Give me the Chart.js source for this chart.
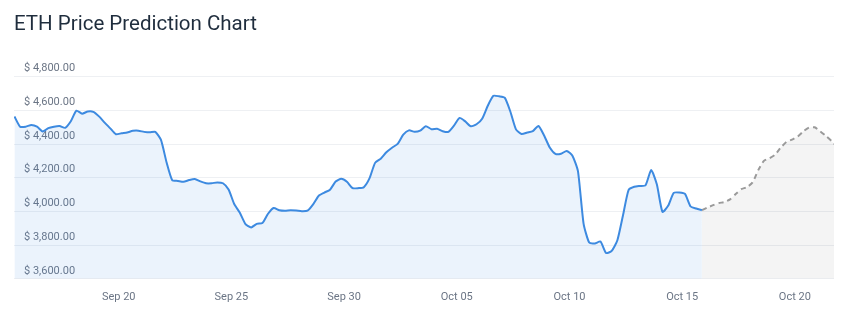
<!DOCTYPE html>
<html>
<head>
<meta charset="utf-8">
<script src="https://cdn.jsdelivr.net/npm/chart.js@4.4.1/dist/chart.umd.min.js"></script>
<style>
  body { margin: 0; background: #fff; }
  #wrap { width: 845px; height: 320px; position: relative; }
</style>
</head>
<body>
<div id="wrap"><canvas id="eth-chart"></canvas></div>
<script>
// ETH price, 6h steps; prediction picks up at the last history point
const historyStart = "2025-09-15T09:00:00Z";
const stepHours = 6;

const historyPrices = [
  4563, 4503, 4503, 4513, 4503, 4474, 4494, 4503, 4507, 4496,
  4535, 4598, 4580, 4593, 4591, 4564, 4527, 4493, 4458, 4464,
  4468, 4478, 4479, 4472, 4469, 4472, 4424, 4290, 4185, 4181,
  4176, 4186, 4192, 4178, 4167, 4167, 4172, 4167, 4130, 4044,
  3992, 3925, 3905, 3926, 3931, 3986, 4020, 4007, 4004, 4007,
  4005, 4001, 4004, 4042, 4093, 4112, 4129, 4177, 4194, 4176,
  4138, 4138, 4144, 4196, 4288, 4313, 4351, 4378, 4401, 4455,
  4481, 4472, 4479, 4506, 4488, 4491, 4476, 4472, 4509, 4555,
  4534, 4505, 4517, 4550, 4627, 4686, 4683, 4675, 4593, 4487,
  4459, 4468, 4477, 4507, 4450, 4379, 4341, 4342, 4359, 4332,
  4239, 3928, 3815, 3810, 3821, 3753, 3766, 3829, 3977, 4128,
  4146, 4151, 4155, 4245, 4161, 3997, 4033, 4110, 4112, 4104,
  4029, 4017, 4007
];

const predictionPrices = [
  4007, 4023, 4037, 4049, 4056, 4071, 4103, 4132, 4144, 4172,
  4245, 4300, 4316, 4337, 4379, 4412, 4426, 4444, 4475, 4497,
  4499, 4475, 4448, 4418, 4383
];

const tickDates = ["2025-09-20", "2025-09-25", "2025-09-30", "2025-10-05", "2025-10-10", "2025-10-15", "2025-10-20"];
const tickLabels = ["Sep 20", "Sep 25", "Sep 30", "Oct 05", "Oct 10", "Oct 15", "Oct 20"];

const HOUR = 3600 * 1000;
const t0 = Date.parse(historyStart);
const historyPoints = historyPrices.map((v, i) => ({ x: t0 + i * stepHours * HOUR, y: v }));
const t1 = historyPoints[historyPoints.length - 1].x;
const predictionPoints = predictionPrices.map((v, i) => ({ x: t1 + i * stepHours * HOUR, y: v }));
const tickValues = tickDates.map(d => Date.parse(d + "T00:00:00Z"));

const ctx = document.getElementById("eth-chart").getContext("2d");
new Chart(ctx, {
  type: "line",
  data: {
    datasets: [
      {
        label: "Price",
        data: historyPoints,
        borderColor: "#3d8ae0",
        backgroundColor: "rgba(62, 140, 226, 0.1)",
        borderWidth: 2,
        pointRadius: 0,
        tension: 0.2,
        fill: "start",
      },
      {
        label: "Prediction",
        data: predictionPoints,
        borderColor: "#9a9a9a",
        backgroundColor: "rgba(0, 0, 0, 0.045)",
        borderWidth: 2,
        borderDash: [5, 4],
        pointRadius: 0,
        tension: 0.2,
        fill: "start",
      },
    ],
  },
  options: {
    responsive: true,
    maintainAspectRatio: false,
    animation: false,
    layout: { padding: { left: 14, right: 11, bottom: 4, top: 0 } },
    plugins: {
      legend: { display: false },
      tooltip: { enabled: false },
      title: {
        display: true,
        text: "ETH Price Prediction Chart",
        align: "start",
        color: "#1f2d3d",
        font: { family: "Roboto", size: 20.5, weight: "normal" },
        padding: { top: 13, bottom: 39 },
      },
    },
    scales: {
      x: {
        type: "linear",
        min: Date.parse("2025-09-15T08:30:00Z"),
        max: Date.parse("2025-10-21T17:40:00Z"),
        afterBuildTicks: (axis) => {
          axis.ticks = tickValues.map(v => ({ value: v }));
        },
        grid: { display: false, drawTicks: false },
        border: { display: false },
        ticks: {
          autoSkip: false,
          maxRotation: 0,
          padding: 12,
          color: "#6b7585",
          font: { family: "Roboto", size: 11 },
          callback: (value) => {
            const k = tickValues.indexOf(value);
            return k >= 0 ? tickLabels[k] : "";
          },
        },
      },
      y: {
        min: 3600,
        max: 4800,
        afterFit: (axis) => { axis.width = 0; }, // labels sit inside the plot
        grid: { color: "#eef0f3", drawTicks: false },
        border: { display: false },
        ticks: {
          stepSize: 200,
          mirror: true,
          padding: 10,
          labelOffset: -8,
          color: "#6b7585",
          font: { family: "Roboto", size: 11 },
          callback: (v) => "$ " + v.toLocaleString("en-US", { minimumFractionDigits: 2, maximumFractionDigits: 2 }),
        },
      },
    },
  },
});
</script>
</body>
</html>
